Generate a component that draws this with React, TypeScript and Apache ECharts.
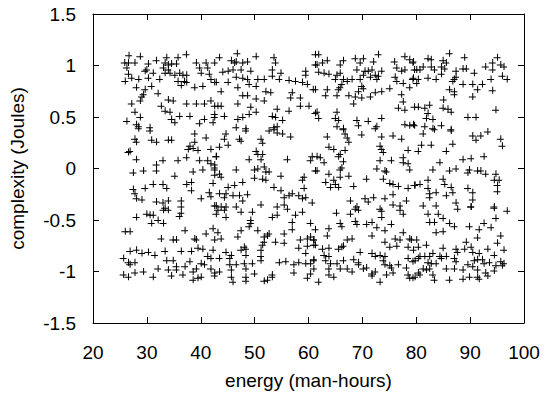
import React, { useEffect, useRef } from "react";
import * as echarts from "echarts";

const xTicks = { min: 20, max: 100, interval: 10 };
const yTicks = { min: -1.5, max: 1.5, interval: 0.5 };
const xTitle = "energy (man-hours)";
const yTitle = "complexity (Joules)";

// points, upper band (y > 0.38)
const bandTop: number[][] = [
  [26.6,1.10],[28.7,1.09],[37.25,1.11],[35.7,1.08],[33.6,1.08],[25.8,1.03],[26.5,1.03],[27.7,1.03],[30.2,1.02],[31.7,1.05],[33.3,1.03],[33.9,1.01],[34.5,1.02],[35.4,1.02],[39.1,1.03],[40.9,1.03],[42.5,1.03],[26.2,0.98],[29.9,0.96],[33.0,0.98],[33.9,0.96],[39.7,0.98],[41.2,0.98],[26.5,0.92],[29.6,0.95],[31.1,0.93],[33.3,0.93],[34.2,0.93],[35.1,0.91],[36.0,0.93],[36.6,0.91],[37.3,0.91],[40.0,0.93],[41.5,0.92],[27.1,0.88],[28.4,0.87],[30.2,0.88],[32.3,0.87],[25.9,0.85],[35.7,0.85],[36.9,0.85],[37.3,0.84],[41.8,0.87],[42.5,0.84],[28.0,0.79],[29.6,0.77],[30.8,0.80],[36.3,0.81],[38.8,0.79],[40.3,0.80],[29.3,0.72],[32.0,0.73],[29.0,0.70],[33.9,0.67],[34.8,0.66],[28.7,0.66],[27.1,0.63],[32.6,0.61],[37.3,0.63],[39.1,0.63],[40.6,0.63],[41.8,0.66],[42.5,0.61],[33.3,0.56],[27.7,0.55],[34.2,0.55],[36.0,0.51],[37.9,0.51],[42.5,0.53],[28.7,0.50],[34.5,0.48],[35.1,0.45],[26.2,0.46],[40.6,0.48],[39.7,0.44],[28.0,0.43],[42.2,0.45],[28.4,0.41],[30.5,0.40],
  [46.7,1.12],[50.2,1.09],[53.5,1.08],[43.4,1.08],[45.6,1.05],[46.2,1.03],[46.5,1.04],[47.7,1.03],[48.6,1.04],[53.8,1.03],[61.2,1.11],[44.0,0.94],[45.0,0.95],[45.9,0.96],[47.4,0.96],[49.2,0.95],[53.2,0.96],[54.8,0.93],[59.4,0.95],[59.4,0.91],[61.2,1.01],[53.2,0.90],[54.5,0.87],[56.3,0.86],[57.5,0.85],[58.8,0.84],[59.7,0.82],[60.8,0.77],[42.8,0.84],[45.0,0.84],[46.5,0.89],[47.7,0.88],[48.6,0.87],[50.5,0.87],[51.7,0.87],[48.9,0.82],[50.2,0.80],[46.8,0.79],[43.7,0.75],[52.0,0.75],[52.9,0.74],[56.9,0.74],[47.7,0.71],[48.6,0.71],[50.2,0.68],[51.7,0.66],[56.6,0.69],[58.4,0.69],[43.1,0.61],[43.7,0.61],[46.8,0.63],[49.2,0.60],[54.1,0.58],[56.3,0.56],[58.4,0.61],[60.0,0.61],[61.2,0.54],[44.3,0.51],[46.8,0.48],[47.7,0.50],[48.9,0.53],[50.2,0.55],[53.2,0.51],[53.8,0.50],[55.1,0.47],[42.5,0.50],[46.5,0.40],[48.3,0.39],[53.5,0.40],[54.1,0.41],
  [61.8,1.11],[72.9,1.11],[63.4,1.05],[66.4,1.05],[68.6,1.07],[70.1,1.07],[61.5,1.01],[62.5,1.03],[65.8,1.01],[69.5,1.03],[72.0,1.04],[75.9,1.04],[77.8,1.09],[78.7,1.06],[79.3,1.03],[61.8,0.94],[62.8,0.93],[63.7,0.92],[65.2,0.91],[65.8,0.93],[68.9,0.96],[70.4,0.95],[71.0,0.95],[71.7,0.96],[72.3,0.91],[72.9,0.90],[73.5,0.95],[76.3,0.98],[77.2,0.95],[77.8,0.96],[79.6,0.96],[64.9,0.87],[66.4,0.87],[67.1,0.85],[68.0,0.87],[69.5,0.87],[70.1,0.91],[71.4,0.89],[72.6,0.87],[76.0,0.89],[76.3,0.85],[77.5,0.83],[79.3,0.87],[66.1,0.82],[65.8,0.79],[69.8,0.80],[70.1,0.78],[72.3,0.74],[73.5,0.75],[75.0,0.78],[78.7,0.79],[61.2,0.77],[63.4,0.77],[65.5,0.77],[69.2,0.75],[67.4,0.71],[68.6,0.70],[69.8,0.69],[71.4,0.70],[63.1,0.71],[65.2,0.71],[77.2,0.72],[77.5,0.65],[68.3,0.63],[76.6,0.59],[77.8,0.57],[79.6,0.60],[61.5,0.55],[65.2,0.55],[61.8,0.49],[64.9,0.49],[65.5,0.47],[68.9,0.47],[71.0,0.46],[73.5,0.49],[65.2,0.41],[66.4,0.39],[69.2,0.42],[72.6,0.41],[77.8,0.43],[78.7,0.42],[79.6,0.42],
  [86.1,1.12],[88.9,1.08],[95.0,1.08],[82.1,1.07],[82.7,1.06],[79.4,1.04],[84.9,1.05],[85.5,1.03],[80.0,0.96],[81.2,0.99],[82.7,0.99],[83.3,0.96],[80.6,0.96],[84.6,0.99],[85.2,0.97],[88.6,0.97],[89.2,0.97],[94.1,1.03],[95.6,1.01],[96.2,0.99],[92.8,0.99],[94.1,0.96],[87.3,0.95],[90.7,0.93],[84.6,0.92],[79.4,0.88],[80.3,0.87],[82.1,0.88],[83.6,0.87],[87.3,0.89],[87.0,0.87],[86.7,0.85],[95.9,0.90],[96.8,0.87],[93.8,0.87],[80.0,0.83],[88.6,0.82],[90.4,0.82],[92.2,0.82],[86.1,0.77],[87.0,0.75],[87.0,0.72],[91.3,0.77],[94.1,0.76],[90.4,0.70],[85.0,0.67],[80.3,0.60],[81.5,0.59],[82.4,0.62],[84.9,0.59],[85.8,0.58],[86.4,0.55],[82.1,0.54],[81.8,0.49],[83.0,0.48],[89.5,0.50],[91.0,0.50],[94.7,0.57],[79.4,0.43],[81.5,0.41],[83.0,0.39],[84.6,0.42],[86.4,0.38]
];

// middle band (-0.4 < y < 0.4)
const bandMid: number[][] = [
  [28.4,0.39],[30.5,0.37],[27.7,0.29],[28.0,0.26],[30.8,0.28],[31.7,0.26],[33.9,0.28],[34.5,0.28],[38.8,0.34],[38.8,0.26],[40.9,0.30],[26.5,0.16],[26.8,0.17],[37.9,0.22],[37.6,0.19],[38.5,0.20],[39.4,0.18],[41.8,0.19],[42.8,0.12],[28.0,0.09],[31.7,0.04],[32.9,0.08],[35.7,0.08],[37.3,0.11],[39.7,0.08],[41.2,0.08],[41.8,0.05],[42.5,0.04],[27.4,-0.04],[29.3,-0.02],[31.7,-0.02],[35.1,-0.07],[38.5,-0.03],[40.3,-0.01],[42.5,-0.01],[42.5,-0.06],[31.1,-0.15],[29.6,-0.19],[27.4,-0.20],[27.7,-0.24],[32.9,-0.15],[33.6,-0.19],[37.3,-0.15],[38.2,-0.13],[38.2,-0.21],[41.5,-0.23],[41.8,-0.27],[42.2,-0.14],[28.0,-0.29],[29.0,-0.30],[31.7,-0.32],[32.9,-0.33],[33.9,-0.31],[36.3,-0.31],[40.0,-0.29],[42.5,-0.36],[36.3,-0.37],[33.3,-0.38],
  [48.3,0.37],[44.6,0.34],[52.6,0.37],[53.5,0.38],[54.1,0.35],[55.1,0.34],[56.6,0.31],[47.1,0.29],[47.4,0.27],[44.3,0.29],[51.1,0.29],[51.4,0.25],[45.0,0.23],[43.4,0.21],[50.2,0.17],[50.5,0.14],[51.4,0.14],[51.1,0.09],[42.8,0.12],[48.9,0.09],[60.6,0.12],[60.3,0.08],[56.0,0.09],[42.5,0.01],[43.4,-0.05],[43.7,-0.08],[46.5,-0.01],[49.9,-0.01],[50.5,0.00],[51.7,0.02],[52.0,-0.03],[52.6,-0.03],[54.8,-0.07],[49.9,-0.09],[51.4,-0.10],[52.0,-0.11],[59.1,-0.08],[58.8,-0.11],[61.2,-0.02],[47.7,-0.13],[46.2,-0.16],[45.0,-0.18],[53.5,-0.18],[54.8,-0.21],[59.1,-0.19],[43.4,-0.24],[44.6,-0.24],[45.9,-0.26],[47.1,-0.26],[48.6,-0.25],[47.7,-0.31],[44.3,-0.28],[55.4,-0.28],[56.3,-0.26],[56.9,-0.24],[58.1,-0.26],[58.8,-0.29],[59.4,-0.28],[42.8,-0.36],[43.7,-0.37],[44.6,-0.37],[46.5,-0.37],[51.1,-0.35],[54.1,-0.37],[55.4,-0.35],[60.6,-0.33],
  [66.4,0.38],[72.3,0.39],[63.4,0.31],[66.7,0.34],[67.1,0.30],[67.4,0.26],[69.8,0.33],[73.5,0.31],[75.6,0.32],[77.2,0.29],[73.2,0.22],[73.5,0.19],[73.8,0.16],[63.7,0.21],[64.6,0.19],[66.7,0.18],[65.8,0.14],[65.5,0.12],[78.4,0.18],[61.5,0.12],[62.1,0.11],[62.8,0.06],[66.4,0.07],[73.2,0.08],[75.3,0.08],[77.5,0.06],[77.5,0.11],[78.4,0.05],[61.5,-0.02],[63.7,-0.05],[65.8,-0.01],[66.1,0.01],[65.8,-0.08],[67.4,-0.07],[72.6,0.00],[74.1,-0.02],[74.4,-0.03],[78.7,-0.01],[64.6,-0.11],[64.9,-0.15],[63.1,-0.13],[64.0,-0.18],[65.5,-0.18],[68.3,-0.17],[70.7,-0.10],[73.8,-0.10],[75.0,-0.14],[75.6,-0.15],[76.6,-0.17],[78.4,-0.19],[79.6,-0.16],[67.7,-0.31],[70.4,-0.29],[71.0,-0.32],[72.0,-0.28],[74.1,-0.29],[75.6,-0.25],[75.6,-0.35],[76.9,-0.36],[78.1,-0.31],[68.9,-0.37],[73.2,-0.39],
  [81.2,0.34],[83.3,0.38],[86.4,0.37],[90.4,0.32],[91.0,0.28],[91.9,0.32],[93.2,0.36],[95.6,0.29],[95.9,0.22],[80.9,0.23],[82.7,0.23],[86.7,0.24],[80.3,0.17],[85.5,0.17],[88.6,0.09],[90.1,0.10],[92.5,0.12],[84.3,0.06],[83.0,-0.01],[86.1,-0.02],[87.3,0.00],[89.5,-0.04],[89.8,-0.01],[91.3,-0.02],[91.9,-0.02],[92.8,-0.05],[94.7,-0.05],[94.4,-0.11],[95.3,-0.11],[95.0,-0.16],[95.0,-0.22],[84.9,-0.10],[85.2,-0.15],[82.1,-0.11],[79.7,-0.16],[80.6,-0.15],[82.1,-0.19],[82.4,-0.24],[82.4,-0.28],[83.6,-0.23],[85.5,-0.26],[86.4,-0.18],[86.7,-0.23],[89.5,-0.19],[90.4,-0.23],[90.4,-0.30],[87.3,-0.33],[81.2,-0.36],[83.6,-0.36],[90.1,-0.37],[94.4,-0.37]
];

// lower band (y < -0.38)
const bandBottom: number[][] = [
  [28.0,-0.47],[29.9,-0.44],[30.5,-0.45],[31.1,-0.45],[33.0,-0.40],[33.9,-0.40],[36.3,-0.43],[36.0,-0.46],[32.0,-0.50],[33.0,-0.53],[30.8,-0.53],[25.9,-0.61],[26.8,-0.61],[37.0,-0.60],[40.9,-0.63],[42.2,-0.58],[42.5,-0.69],[32.6,-0.68],[34.8,-0.69],[35.4,-0.69],[38.8,-0.68],[39.1,-0.69],[26.8,-0.80],[28.0,-0.79],[29.0,-0.82],[30.2,-0.81],[31.4,-0.84],[33.3,-0.80],[36.3,-0.80],[38.2,-0.80],[39.4,-0.77],[40.3,-0.78],[42.2,-0.79],[41.2,-0.85],[41.8,-0.87],[25.6,-0.87],[26.5,-0.91],[26.8,-0.93],[27.7,-0.91],[32.0,-0.97],[33.6,-0.89],[33.9,-0.98],[34.8,-0.89],[35.4,-0.95],[35.4,-0.98],[37.0,-0.95],[37.9,-0.90],[38.5,-1.00],[39.1,-0.97],[40.0,-0.92],[40.6,-0.93],[41.8,-0.97],[42.5,-1.01],[25.6,-1.03],[26.5,-1.05],[27.7,-1.01],[29.3,-1.00],[31.1,-1.05],[34.5,-1.04],[36.6,-1.03],[38.5,-1.08],[39.4,-1.06],[40.0,-1.05],[42.5,-1.04],
  [43.1,-0.40],[44.3,-0.40],[44.6,-0.47],[47.4,-0.42],[49.5,-0.42],[53.2,-0.47],[54.1,-0.45],[56.0,-0.39],[57.5,-0.45],[58.8,-0.42],[42.8,-0.44],[49.2,-0.50],[49.2,-0.53],[48.9,-0.56],[47.4,-0.60],[50.5,-0.60],[52.6,-0.63],[56.9,-0.52],[56.9,-0.59],[60.3,-0.53],[43.1,-0.62],[43.7,-0.68],[46.8,-0.66],[51.7,-0.66],[52.3,-0.65],[53.8,-0.71],[55.4,-0.63],[55.4,-0.72],[58.4,-0.69],[59.7,-0.68],[60.3,-0.66],[60.9,-0.69],[58.1,-0.77],[59.4,-0.82],[59.7,-0.75],[60.9,-0.74],[44.6,-0.81],[45.6,-0.84],[47.4,-0.79],[48.0,-0.76],[48.3,-0.78],[48.3,-0.84],[51.1,-0.79],[51.4,-0.74],[51.7,-0.71],[43.4,-0.87],[45.3,-0.87],[51.1,-0.85],[51.1,-0.89],[54.5,-0.91],[55.7,-0.90],[57.2,-0.93],[58.1,-0.91],[59.4,-0.92],[60.3,-0.92],[60.9,-0.89],[43.4,-1.00],[45.3,-0.93],[45.6,-0.98],[46.5,-0.93],[48.0,-0.92],[48.3,-0.97],[49.5,-0.92],[45.6,-1.05],[48.3,-1.05],[49.9,-1.02],[51.7,-1.09],[52.3,-1.08],[53.2,-1.05],[53.2,-1.03],[57.2,-1.01],[59.7,-1.06],[60.3,-1.02],[45.9,-1.10],[48.3,-1.09],
  [65.1,-0.43],[67.7,-0.44],[68.6,-0.39],[69.2,-0.40],[73.5,-0.41],[76.9,-0.40],[77.5,-0.44],[65.8,-0.53],[66.1,-0.56],[68.6,-0.51],[68.9,-0.54],[70.7,-0.54],[71.7,-0.52],[72.6,-0.57],[73.5,-0.47],[74.1,-0.60],[75.3,-0.54],[61.2,-0.59],[63.7,-0.58],[63.4,-0.65],[77.5,-0.62],[60.9,-0.69],[61.2,-0.74],[67.1,-0.69],[68.0,-0.68],[71.7,-0.65],[74.1,-0.71],[75.0,-0.76],[76.3,-0.75],[76.0,-0.68],[76.9,-0.69],[78.7,-0.68],[79.0,-0.69],[78.4,-0.76],[62.5,-0.78],[63.7,-0.77],[65.5,-0.78],[66.1,-0.76],[66.4,-0.75],[69.5,-0.81],[71.7,-0.82],[72.3,-0.85],[73.2,-0.84],[74.1,-0.85],[62.8,-0.84],[63.7,-0.85],[60.9,-0.88],[63.1,-0.89],[64.0,-0.92],[63.7,-0.97],[65.2,-0.92],[66.4,-0.89],[68.3,-0.88],[69.2,-0.91],[69.2,-0.93],[70.7,-0.96],[73.8,-0.89],[74.1,-0.93],[75.0,-0.94],[75.3,-0.96],[76.6,-0.93],[78.4,-0.87],[79.3,-0.90],[60.9,-0.97],[65.8,-0.97],[67.1,-0.97],[68.0,-1.00],[70.1,-0.97],[71.7,-1.02],[71.7,-1.04],[72.3,-1.00],[74.4,-1.03],[75.6,-1.01],[78.1,-0.96],[78.4,-1.03],[63.7,-1.03],[64.6,-1.05],[73.2,-1.10],[61.8,-1.10],[78.7,-1.06],[79.3,-1.06],
  [87.6,-0.39],[90.1,-0.37],[94.4,-0.38],[96.8,-0.41],[82.1,-0.44],[84.0,-0.44],[84.9,-0.48],[82.4,-0.52],[83.3,-0.52],[86.1,-0.53],[87.0,-0.56],[89.8,-0.56],[91.6,-0.59],[92.5,-0.53],[93.8,-0.57],[94.7,-0.48],[95.6,-0.65],[83.6,-0.62],[84.9,-0.61],[91.3,-0.67],[80.0,-0.69],[80.3,-0.76],[81.8,-0.74],[89.2,-0.71],[95.0,-0.72],[79.4,-0.79],[80.6,-0.85],[81.5,-0.85],[82.4,-0.85],[83.0,-0.82],[84.3,-0.85],[84.9,-0.77],[84.6,-0.87],[85.5,-0.85],[87.3,-0.78],[87.6,-0.81],[88.9,-0.78],[90.1,-0.76],[90.4,-0.81],[91.6,-0.82],[92.2,-0.88],[93.2,-0.78],[94.4,-0.84],[96.2,-0.79],[87.0,-0.87],[87.3,-0.90],[90.7,-0.89],[91.3,-0.88],[79.7,-0.89],[80.3,-0.87],[82.1,-0.91],[82.7,-0.92],[81.2,-0.97],[81.8,-0.98],[82.4,-0.97],[83.6,-0.92],[85.5,-0.97],[87.0,-0.97],[88.6,-0.98],[89.5,-0.93],[90.4,-0.95],[91.3,-0.98],[92.5,-0.92],[92.8,-1.01],[93.5,-0.91],[94.4,-0.99],[95.6,-0.90],[95.9,-0.94],[96.2,-0.92],[94.7,-0.94],[80.3,-1.01],[80.6,-1.03],[83.0,-1.03],[79.7,-1.05],[83.3,-1.08],[86.1,-1.08],[88.6,-1.07],[89.8,-1.05],[91.3,-1.05],[91.6,-1.07],[93.2,-1.04]
];

const FONT = "'Liberation Sans', Arial, Helvetica, sans-serif";
const PLUS = "path://M0,3.5H7V4.5H0Z M3.5,0H4.5V7H3.5Z";

export default function App() {
  const ref = useRef<HTMLDivElement>(null);
  useEffect(() => {
    if (!ref.current) return;
    const chart = echarts.init(ref.current, undefined, { renderer: "svg" });
    const points = [...bandTop, ...bandMid, ...bandBottom];
    const tickStyle = { inside: true, length: 6, lineStyle: { color: "#000", width: 1 } };
    const axisLine = { show: true, onZero: false, lineStyle: { color: "#000", width: 1 } };
    const label = { color: "#000", fontSize: 19, fontFamily: FONT };
    chart.setOption({
      animation: false,
      backgroundColor: "#fff",
      grid: { left: 90, right: 21, top: 14, bottom: 70, containLabel: false },
      xAxis: [
        {
          type: "value", ...xTicks, position: "bottom",
          axisLine, axisTick: tickStyle, splitLine: { show: false },
          axisLabel: { ...label, margin: 20 },
          name: xTitle, nameLocation: "middle", nameGap: 48,
          nameTextStyle: { ...label },
        },
        {
          type: "value", ...xTicks, position: "top",
          axisLine, axisTick: tickStyle, splitLine: { show: false },
          axisLabel: { show: false },
        },
      ],
      yAxis: [
        {
          type: "value", ...yTicks, position: "left",
          axisLine, axisTick: tickStyle, splitLine: { show: false },
          axisLabel: { ...label, margin: 17 },
          name: yTitle, nameLocation: "middle", nameGap: 66,
          nameTextStyle: { ...label },
        },
        {
          type: "value", ...yTicks, position: "right",
          axisLine, axisTick: tickStyle, splitLine: { show: false },
          axisLabel: { show: false },
        },
      ],
      series: [
        {
          type: "scatter",
          data: points,
          symbol: PLUS,
          symbolSize: 7,
          itemStyle: { color: "#000", opacity: 1 },
          emphasis: { disabled: true },
          silent: true,
        },
      ],
    });
    return () => chart.dispose();
  }, []);
  return (
    <div
      ref={ref}
      style={{ position: "absolute", left: 0, top: 0, width: 545, height: 395 }}
    />
  );
}
